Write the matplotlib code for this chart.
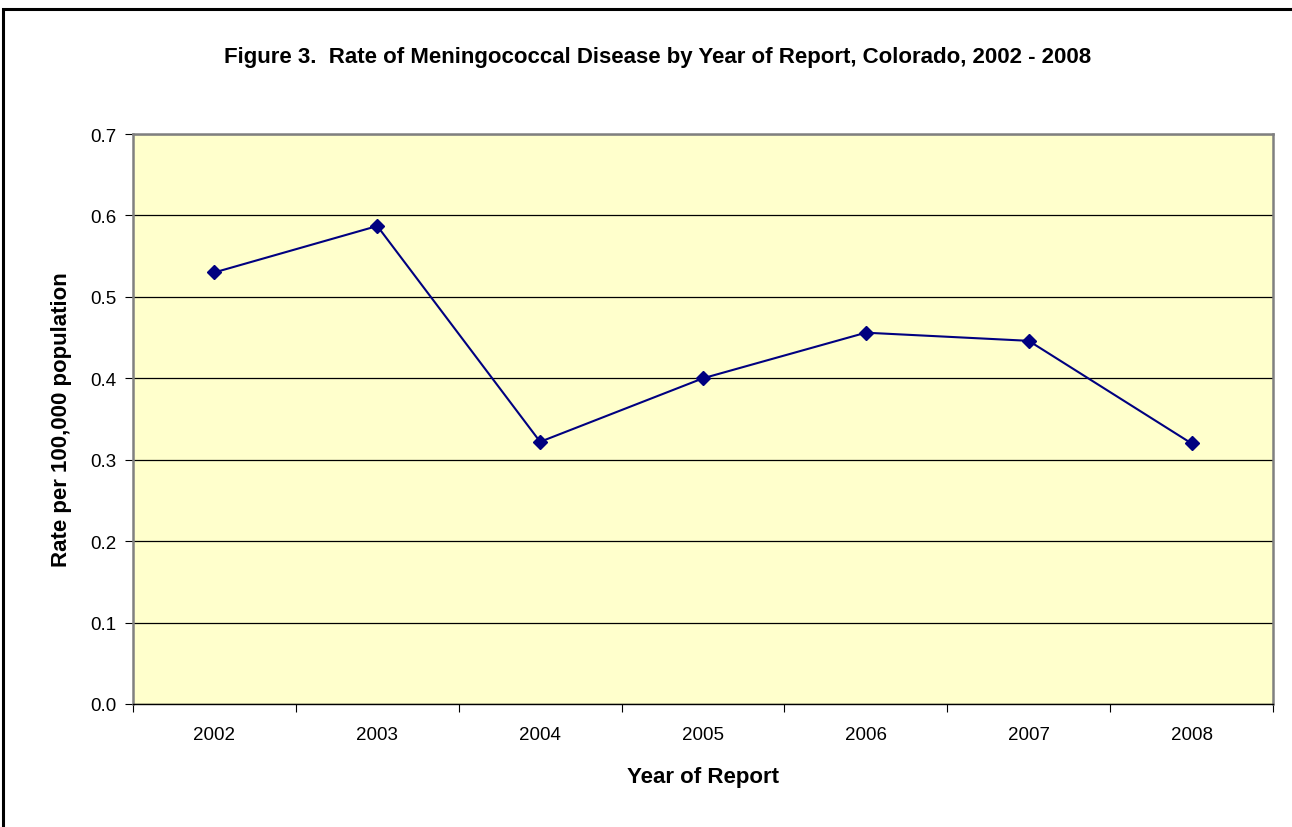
import matplotlib
matplotlib.use('Agg')
import matplotlib.pyplot as plt
from matplotlib.patches import Rectangle
from matplotlib.ticker import FixedLocator, NullFormatter

plt.rcParams['font.family'] = ['Liberation Sans', 'DejaVu Sans']

years = ['2002', '2003', '2004', '2005', '2006', '2007', '2008']
rates = [0.530, 0.587, 0.322, 0.400, 0.456, 0.446, 0.320]
y_ticks = [0.0, 0.1, 0.2, 0.3, 0.4, 0.5, 0.6, 0.7]

fig = plt.figure(figsize=(12.92, 8.28), dpi=100)
ax = fig.add_axes([133 / 1292, 1 - 705 / 828, 1140 / 1292, 570 / 828])

# outer frame (cut off at right/bottom like the source image)
fig.patches.append(Rectangle((3 / 1292, -0.1), 1.2, 1 - 10 / 828 + 0.1,
                             transform=fig.transFigure, fill=False,
                             edgecolor='black', linewidth=2.2))

ax.set_facecolor('#FFFFCC')
x = list(range(1, len(years) + 1))
ax.plot(x, rates, color='#000080', linewidth=1.5, marker='D', markersize=7,
        markerfacecolor='#000080', markeredgecolor='#000080', zorder=3)

ax.set_xlim(0.5, len(years) + 0.5)
ax.set_ylim(0, 0.7)
ax.set_yticks(y_ticks)
ax.set_yticklabels([f'{v:.1f}' for v in y_ticks])
ax.yaxis.grid(True, color='black', linewidth=0.9)
ax.set_axisbelow(True)

# category axis: tick marks at boundaries, labels at centres
ax.xaxis.set_major_locator(FixedLocator([i + 0.5 for i in range(len(years) + 1)]))
ax.xaxis.set_major_formatter(NullFormatter())
ax.xaxis.set_minor_locator(FixedLocator(x))
ax.set_xticklabels(years, minor=True)
ax.tick_params(axis='x', which='major', length=6, color='black', width=0.8)
ax.tick_params(axis='x', which='minor', length=0, pad=16, labelsize=13.5)
ax.tick_params(axis='y', length=6, width=0.8, pad=6, labelsize=13.5)

for side in ['top', 'right', 'left']:
    ax.spines[side].set_color('#808080')
    ax.spines[side].set_linewidth(1.8)
ax.spines['bottom'].set_color('black')
ax.spines['bottom'].set_linewidth(1.0)

ax.set_xlabel('Year of Report', fontsize=16, fontweight='bold', va='center')
ax.xaxis.set_label_coords(0.5, (705 - 778) / 570)
ax.set_ylabel('Rate per 100,000 population', fontsize=16, fontweight='bold', va='center')
ax.yaxis.set_label_coords((62 - 133) / 1140, 0.5)
fig.text(658 / 1292, 1 - 58 / 828,
         'Figure 3.  Rate of Meningococcal Disease by Year of Report, Colorado, 2002 - 2008',
         ha='center', va='center', fontsize=16, fontweight='bold')

fig.savefig('out.png', dpi=100)
